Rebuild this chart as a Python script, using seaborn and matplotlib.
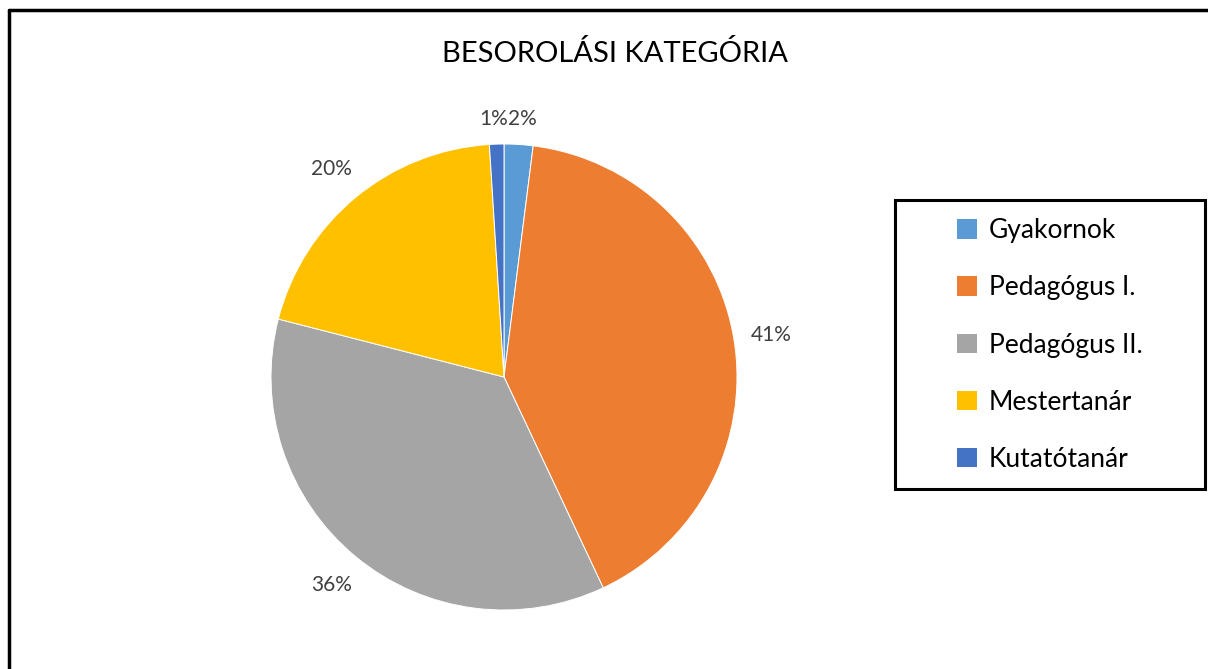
import matplotlib
matplotlib.use("Agg")
import matplotlib.pyplot as plt
import seaborn as sns
from matplotlib.lines import Line2D
from matplotlib.patches import Rectangle, Patch

# data
categories = ["Gyakornok", "Pedagógus I.", "Pedagógus II.", "Mestertanár", "Kutatótanár"]
shares = [2, 41, 36, 20, 1]
colors = ["#5B9BD5", "#ED7D31", "#A5A5A5", "#FFC000", "#4472C4"]
title = "BESOROLÁSI KATEGÓRIA"

sns.set_theme(style="white")
plt.rcParams["font.family"] = ["Lato", "DejaVu Sans"]

W, H = 1208, 669
fig = plt.figure(figsize=(W / 100, H / 100), dpi=100)
fig.patch.set_facecolor("white")

# pie axes: centre ~ (504, 377), radius ~ 233 px
ax = fig.add_axes([271 / W, (H - 610) / H, 466 / W, 466 / H])
wedges, texts, autotexts = ax.pie(
    shares,
    colors=colors,
    startangle=90,
    counterclock=False,
    autopct="%1.0f%%",
    pctdistance=1.16,
    wedgeprops=dict(linewidth=0.7, edgecolor="white"),
    textprops=dict(color="#404040", fontsize=15),
)
ax.set_xlim(-1, 1)
ax.set_ylim(-1, 1)
ax.set_aspect("equal")
ax.axis("off")

# the two tiny slices at the top: put their labels side by side ("1%2%")
first, last = autotexts[0], autotexts[-1]
mid_x = (first.get_position()[0] + last.get_position()[0]) / 2
y_top = min(first.get_position()[1], last.get_position()[1]) - 0.05
last.set_position((mid_x, y_top))
last.set_ha("right")
first.set_position((mid_x, y_top))
first.set_ha("left")

fig.text(615 / W, 1 - 53 / H, title, ha="center", va="center",
         fontsize=21, color="black")

# legend with its own box
handles = [Patch(facecolor=c, edgecolor="none") for c in colors]
leg = fig.legend(handles, categories, loc="center",
                 bbox_to_anchor=(1050 / W, 1 - 345 / H),
                 frameon=False, fontsize=19, handlelength=0.75,
                 handleheight=0.75, handletextpad=0.45, labelspacing=1.22)
for t in leg.get_texts():
    t.set_color("black")
fig.add_artist(Rectangle((895 / W, 1 - 489 / H), 310 / W, 289 / H,
                         transform=fig.transFigure, fill=False,
                         edgecolor="black", linewidth=2.2))

# chart area border (only top and left visible)
fig.add_artist(Line2D([9 / W, 1.0], [1 - 10 / H, 1 - 10 / H],
                      transform=fig.transFigure, color="black", linewidth=2.5))
fig.add_artist(Line2D([9 / W, 9 / W], [0.0, 1 - 10 / H],
                      transform=fig.transFigure, color="black", linewidth=2.5))

fig.savefig("out.png", dpi=100)
